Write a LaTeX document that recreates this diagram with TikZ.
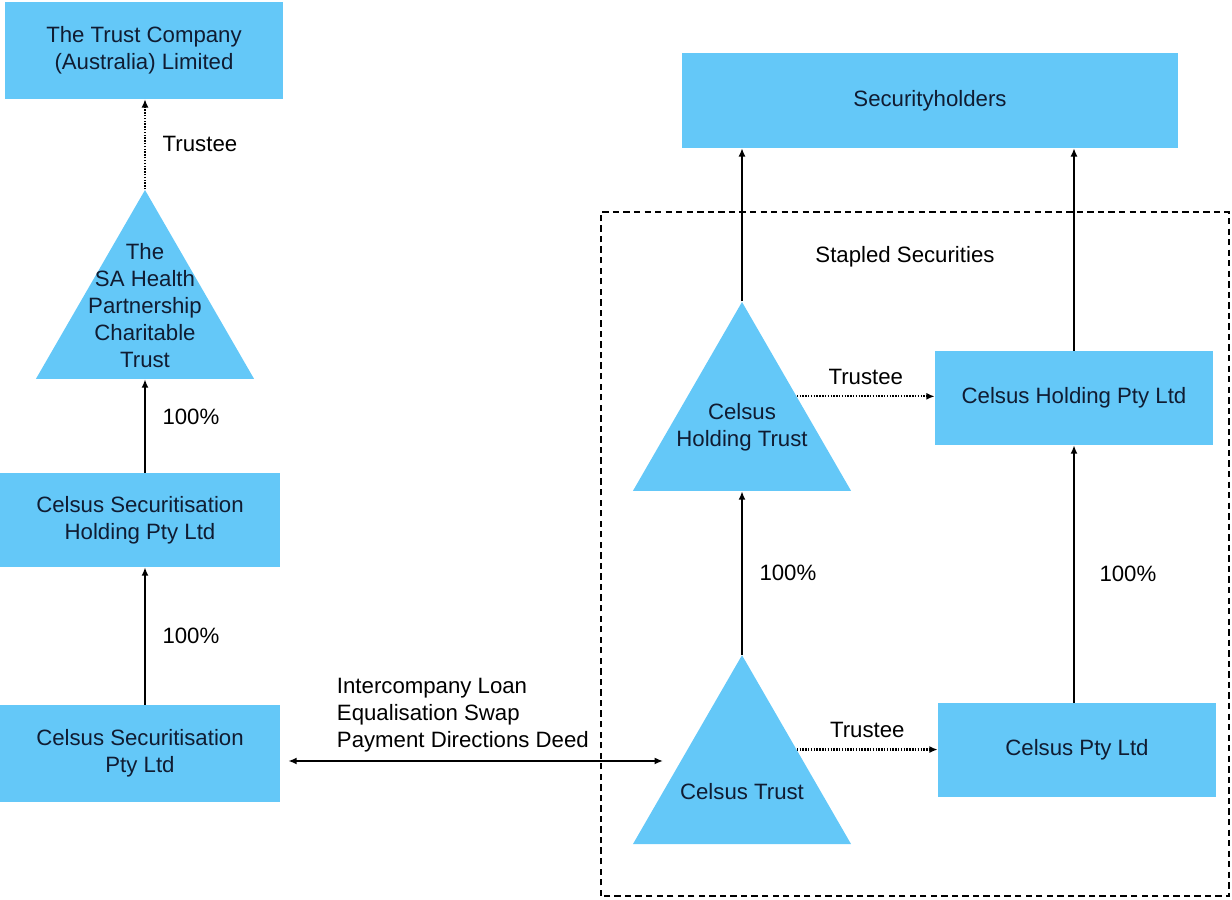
\documentclass[tikz,border=0pt]{standalone}
\usepackage{fontspec}
\setmainfont{Liberation Sans}
\usepackage{xcolor}
\usepackage{tikz}
\definecolor{boxblue}{RGB}{100,200,248}
\definecolor{boxtext}{RGB}{16,28,50}
\tikzset{
	tri/.style={
			regular polygon, regular polygon sides=3, fill=boxblue, draw=none,
			minimum size=6.3cm, inner sep=0pt
		}
}
\tikzstyle{bx} = [rectangle, fill=boxblue, text=boxtext, align=center, inner sep=0pt]
\tikzstyle{tt} = [text=boxtext, align=center]
\tikzstyle{lbl} = [text=black, align=left]
\tikzstyle{own} = [draw, line width=1.2pt, black, -{Latex[length=6pt,width=5pt]}]
\tikzstyle{trs} = [draw, line width=1.5pt, black, dash pattern=on 1pt off 1pt, -{Latex[length=6pt,width=5pt]}]
\usetikzlibrary{arrows.meta,calc,shapes.geometric}

\begin{document}
\begin{tikzpicture}[every node/.style={font=\fontsize{15.8}{19.3}\selectfont}]
  \useasboundingbox (0,0) rectangle (30.8,22.5);

  % Nodes
  \node[bx, minimum width=6.95cm, minimum height=2.425cm] (TC)  at (3.6, 21.24) {The Trust Company\\(Australia) Limited};
  \node[tri] (SAT) at (3.625, 14.6) {};
  \node[tt]  (SATt) at (3.625, 14.86) {The\\SA Health\\Partnership\\Charitable\\Trust};
  \node[bx, minimum width=7cm, minimum height=2.35cm]  (CSH) at (3.5, 9.5)  {Celsus Securitisation\\Holding Pty Ltd};
  \node[bx, minimum width=7cm, minimum height=2.425cm] (CSP) at (3.5, 3.66) {Celsus Securitisation\\Pty Ltd};

  \node[bx, minimum width=12.4cm, minimum height=2.375cm] (SH) at (23.25, 19.99) {Securityholders};
  \node[tri] (CHT) at (18.55, 11.8) {};
  \node[tt]  (CHTt) at (18.55, 11.81) {Celsus\\Holding Trust};
  \node[tri] (CT)  at (18.55, 2.97) {};
  \node[tt]  (CTt) at (18.55, 2.7) {Celsus Trust};
  \node[bx, minimum width=6.95cm, minimum height=2.35cm] (CHP) at (26.85, 12.55) {Celsus Holding Pty Ltd};
  \node[bx, minimum width=6.95cm, minimum height=2.35cm] (CP)  at (26.925, 3.75) {Celsus Pty Ltd};

  % Stapled group
  \draw[line width=1.2pt, dash pattern=on 4.5pt off 3pt] (15.025, 0.1) rectangle (30.725, 17.2);
  \node[lbl] (stp) at (22.625, 16.075) {Stapled Securities};

  % Arrows
  \draw[trs] (SAT.corner 1) -- (SAT.corner 1 |- TC.south) node[midway, right=0.3cm, lbl] (tr1) {Trustee};
  \draw[own] (CSH.north -| SAT) -- (SAT.side 2) node[pos=0.6, right=0.3cm, lbl] (p1) {100\%};
  \draw[own] (CSP.north -| SAT) -- (CSH.south -| SAT) node[midway, right=0.3cm, lbl] (p2) {100\%};

  \coordinate (loanend) at (16.575, 3.475);
  \draw[own, {Latex[length=6pt,width=5pt]}-{Latex[length=6pt,width=5pt]}] ([xshift=0.2cm]CSP.east |- loanend) -- (loanend);
  \node[lbl, anchor=west] (loan) at (8.3, 4.625) {Intercompany Loan\\Equalisation Swap\\Payment Directions Deed};

  \draw[own] (CHT.corner 1) -- (CHT.corner 1 |- SH.south);
  \draw[own] (CHP.north) -- (CHP.north |- SH.south);
  \draw[own] (CT.corner 1) -- (CHT.side 2) node[midway, right=0.3cm, lbl] (p3) {100\%};
  \draw[own] (CP.north -| CHP) -- (CHP.south) node[midway, right=0.5cm, lbl] (p4) {100\%};

  \draw[trs] (CHT.side 3) -- (CHT.side 3 -| CHP.west) node[midway, above=0.15cm, lbl] (tr2) {Trustee};
  \draw[trs] (CT.side 3) -- (CT.side 3 -| CP.west) node[midway, above=0.15cm, lbl] (tr3) {Trustee};
\end{tikzpicture}
\end{document}
